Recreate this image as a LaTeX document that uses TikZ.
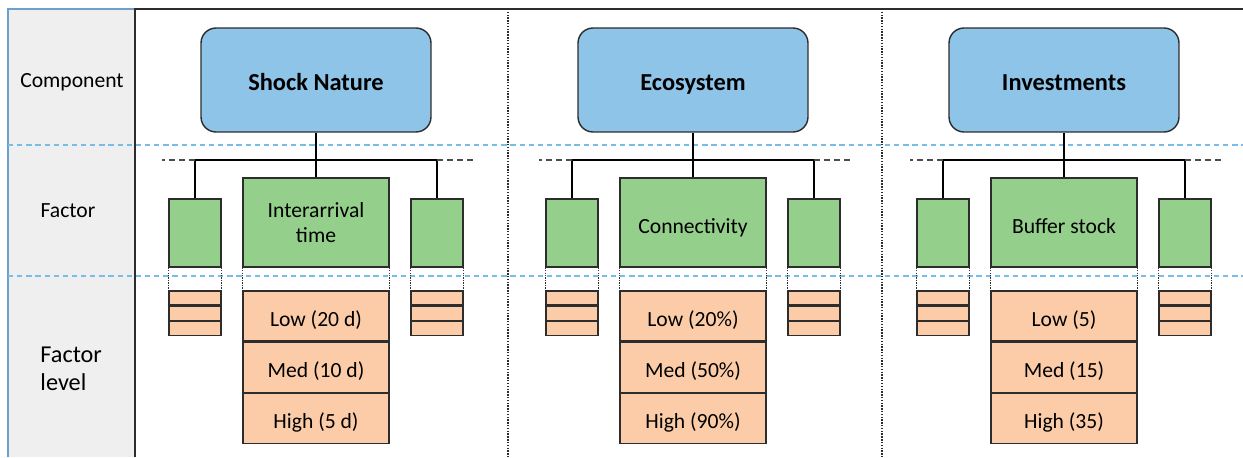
\documentclass[tikz,border=0pt]{standalone}
\usepackage{fontspec}
\setmainfont{Carlito}
\usetikzlibrary{positioning}

\definecolor{compblue}{RGB}{141,196,232}
\definecolor{facgreen}{RGB}{148,207,140}
\definecolor{lvlorange}{RGB}{252,204,168}
\definecolor{panelgrey}{RGB}{239,239,239}
\definecolor{rowblue}{RGB}{120,188,232}
\definecolor{edgeblue}{RGB}{110,160,205}
\definecolor{linegrey}{RGB}{45,45,45}

\tikzset{
  comp/.style={draw=linegrey, fill=compblue, rounded corners=0.3cm, line width=0.8pt,
    minimum width=4.6cm, minimum height=2.08cm, text height=12.2pt, text depth=0pt,
    font=\fontsize{13.9}{16}\selectfont\bfseries},
  fac/.style={draw=linegrey, fill=facgreen, inner sep=0pt, align=center,
    minimum width=2.92cm, minimum height=1.78cm},
  % single-line factor names sit a little low, like the level texts
  facone/.style={text height=12pt, text depth=0pt},
  factwo/.style={},
  facsmall/.style={draw=linegrey, fill=facgreen, inner sep=0pt,
    minimum width=1.04cm, minimum height=1.36cm},
  lvl/.style={draw=linegrey, fill=lvlorange, inner sep=0pt,
    minimum width=2.92cm, minimum height=1cm, text height=12pt, text depth=0pt},
  lvlsmall/.style={draw=linegrey, fill=lvlorange, inner sep=0pt,
    minimum width=1.04cm, minimum height=0.28cm},
  rowsep/.style={rowblue, line width=1.1pt, dash pattern=on 3pt off 2.2pt},
  gapline/.style={linegrey, line width=0.6pt, dash pattern=on 0.7pt off 0.7pt},
  stub/.style={linegrey!85, dash pattern=on 3.5pt off 2.2pt},
  sidelabel/.style={font=\fontsize{12.3}{14.5}\selectfont},
}

\begin{document}
\begin{tikzpicture}[x=0.02cm, y=-0.02cm, line width=0.7pt,
    font=\fontsize{12.3}{14.5}\selectfont]
  \useasboundingbox (0,0) rectangle (1243,457);

  % Grey label panel and outer frame
  \fill[panelgrey] (8,9) rectangle (135,457);
  \draw[edgeblue, line width=0.8pt] (8,457) -- (8,9) -- (135,9);
  \draw[linegrey] (135,457) -- (135,9) -- (1243,9);

  % Dotted column separators
  \draw[linegrey, line width=0.9pt, dash pattern=on 0.8pt off 0.8pt] (508,9) -- (508,457);
  \draw[linegrey, line width=0.9pt, dash pattern=on 0.8pt off 0.8pt] (882,9) -- (882,457);

  % Row separators
  \draw[rowsep] (8,145) -- (1243,145);
  \draw[rowsep] (8,276) -- (1243,276);

  % Row labels
  \node[sidelabel] (lblcomp) at (72,82) {Component};
  \node[sidelabel] (lblfac) at (68,211) {Factor};
  \node[anchor=west, align=left, font=\fontsize{13.8}{16}\selectfont] (lbllvl) at (34,369) {Factor\\level};

  % One column per component
  \foreach \cx/\name/\fst/\fname/\lo/\me/\hi [count=\i] in {
      316/Shock Nature/factwo/{Interarrival\\time}/Low (20 d)/Med (10 d)/High (5 d),
      693/Ecosystem/facone/Connectivity/Low (20\%)/Med (50\%)/High (90\%),
      1064/Investments/facone/Buffer stock/Low (5)/Med (15)/High (35)} {
    \node[comp] (comp\i) at (\cx,80) {\name};

    % factor boxes
    \node[fac, \fst] (fac\i) at (\cx,222.5) {\fname};
    \node[facsmall] (facL\i) at (\cx-121,233) {};
    \node[facsmall] (facR\i) at (\cx+121,233) {};

    % factor levels
    \node[lvl] (lo\i) at (\cx,316) {\lo};
    \node[lvl, below=0pt of lo\i] (me\i) {\me};
    \node[lvl, below=0pt of me\i] (hi\i) {\hi};
    \node[lvlsmall] (sL\i) at (\cx-121,298) {};
    \node[lvlsmall, below=0pt of sL\i] (sLb\i) {};
    \node[lvlsmall, below=0pt of sLb\i] (sLc\i) {};
    \node[lvlsmall] (sR\i) at (\cx+121,298) {};
    \node[lvlsmall, below=0pt of sR\i] (sRb\i) {};
    \node[lvlsmall, below=0pt of sRb\i] (sRc\i) {};

    % tree from component to factors
    \coordinate (j\i) at (\cx,160);
    \draw (comp\i.south) -- (j\i) -- (fac\i.north);
    \draw (facL\i.north) -- (facL\i.north |- j\i) -- (facR\i.north |- j\i) -- (facR\i.north);
    \draw[stub] (facL\i.north |- j\i) -- ++(-33,0);
    \draw[stub] (facR\i.north |- j\i) -- ++(38,0);

    % dotted links down to the levels
    \foreach \f/\l in {facL\i/sL\i, fac\i/lo\i, facR\i/sR\i} {
      \draw[gapline] (\f.south west) -- (\l.north west);
      \draw[gapline] (\f.south east) -- (\l.north east);
    }
  }
\end{tikzpicture}
\end{document}
